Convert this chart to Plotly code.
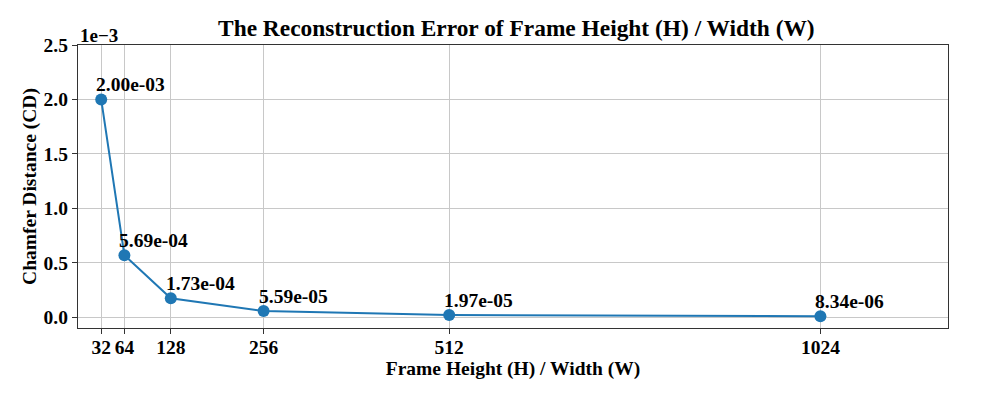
import plotly.graph_objects as go

# data
frame_size = [32, 64, 128, 256, 512, 1024]
chamfer_dist = [2.00e-03, 5.69e-04, 1.73e-04, 5.59e-05, 1.97e-05, 8.34e-06]
y_ticks = [0.0, 0.5, 1.0, 1.5, 2.0, 2.5]

FONT = 'Liberation Serif'
BLUE = '#1f77b4'

# scaled to units of 1e-3 (matplotlib style offset label)
y_scaled = [v * 1e3 for v in chamfer_dist]

fig = go.Figure()
fig.add_trace(go.Scatter(
    x=frame_size, y=y_scaled,
    mode='lines+markers',
    line=dict(color=BLUE, width=2),
    marker=dict(color=BLUE, size=12),
    showlegend=False,
))

for x, v, ys in zip(frame_size, chamfer_dist, y_scaled):
    fig.add_annotation(
        x=x, y=ys, text=f'<b>{v:.2e}</b>',
        showarrow=False, xanchor='left', yanchor='bottom',
        xshift=-7, yshift=2,
        font=dict(family=FONT, size=19.5, color='black'),
    )

# offset label
fig.add_annotation(
    x=0, y=1, xref='paper', yref='paper', text='<b>1e\u22123</b>',
    showarrow=False, xanchor='left', yanchor='bottom', yshift=-3,
    font=dict(family=FONT, size=19, color='black'),
)

axis_common = dict(
    showline=True, linecolor='#333333', linewidth=1.3, mirror=True,
    showgrid=True, gridcolor='#c8c8c8', gridwidth=1,
    ticks='outside', ticklen=5, tickcolor='#333333',
    zeroline=False, automargin=False,
    tickfont=dict(family=FONT, size=19.5, color='black'),
)

fig.update_xaxes(
    range=[0, 1200], tickvals=frame_size,
    ticktext=[f'<b>{v}</b>' for v in frame_size],
    ticklabelstandoff=-4,
    title=dict(text='<b>Frame Height (H) / Width (W)</b>',
               font=dict(family=FONT, size=19.5, color='black'), standoff=0),
    **axis_common,
)
fig.update_yaxes(
    range=[-0.1, 2.5], tickvals=y_ticks,
    ticktext=[f'<b>{v:.1f}</b>' for v in y_ticks],
    title=dict(text='<b>Chamfer Distance (CD)</b>',
               font=dict(family=FONT, size=19.5, color='black'), standoff=1),
    **axis_common,
)

# page body adds an 8px offset, so the figure is sized to fit the window
fig.update_layout(
    width=989, height=391,
    margin=dict(l=70, r=49, t=37, b=71),
    plot_bgcolor='white', paper_bgcolor='white',
    title=dict(text='<b>The Reconstruction Error of Frame Height (H) / Width (W)</b>',
               x=0.514, xanchor='center', y=0.95, yanchor='middle',
               font=dict(family=FONT, size=23.4, color='black')),
)

fig.write_html('out.html')
